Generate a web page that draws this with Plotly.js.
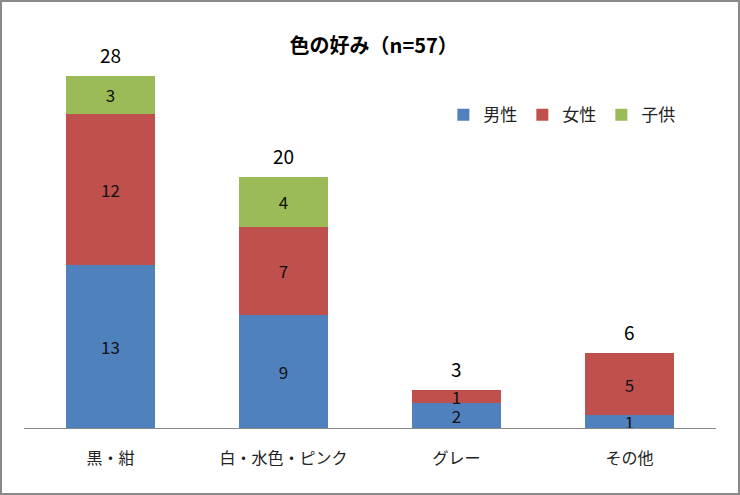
<!DOCTYPE html>
<html><head><meta charset="utf-8">
<script src="https://cdn.plot.ly/plotly-3.0.1.min.js"></script>
<style>
html,body{margin:0;padding:0;background:#fff;}
#frame{position:absolute;left:0;top:0;width:740px;height:495px;box-sizing:border-box;border:2px solid #8a8a8a;}
#chart{position:absolute;left:0;top:0;width:736px;height:491px;}
</style></head>
<body><div id="frame"><div id="chart"></div></div>
<script>
const categories = ['黒・紺', '白・水色・ピンク', 'グレー', 'その他'];
const men = [13, 9, 2, 1];
const women = [12, 7, 1, 5];
const children = [3, 4, 0, 0];
const seriesNames = ['男性', '女性', '子供'];
const totals = categories.map((c, i) => men[i] + women[i] + children[i]);

const colors = ['#4F81BD', '#C0504D', '#9BBB59'];
const numFont = 'Liberation Sans Narrow, Arial Narrow, Noto Sans CJK JP, sans-serif';
const jpFont = 'Noto Sans CJK JP, sans-serif';

function mk(vals, name, color) {
  return {
    type: 'bar', x: categories, y: vals, name: name,
    marker: {color: color},
    text: vals.map(v => v ? String(v) : ''),
    textposition: 'inside', insidetextanchor: 'middle', constraintext: 'none', textangle: 0,
    textfont: {family: numFont, size: 17, color: '#111'},
    hoverinfo: 'none'
  };
}
const data = [mk(men, seriesNames[0], colors[0]), mk(women, seriesNames[1], colors[1]), mk(children, seriesNames[2], colors[2])];

const annotations = categories.map((c, i) => ({
  x: c, y: totals[i], text: String(totals[i]), showarrow: false,
  yanchor: 'bottom', yshift: 6, font: {family: numFont, size: 19, color: '#000'}
}));

const layout = {
  width: 736, height: 491,
  margin: {l: 22, r: 22, t: 49, b: 65},
  paper_bgcolor: '#fff', plot_bgcolor: '#fff',
  barmode: 'stack', bargap: 0.49,
  title: {text: '<b>色の好み（n=57）</b>', x: 0.505, xanchor: 'center', y: 0.91, yanchor: 'middle',
          font: {family: jpFont, size: 20, color: '#000'}},
  showlegend: true,
  legend: {orientation: 'h', x: 0.606, xanchor: 'left', y: 0.83, yanchor: 'middle',
           font: {family: jpFont, size: 17, color: '#222'}, traceorder: 'normal',
           itemwidth: 30, bgcolor: 'rgba(0,0,0,0)'},
  xaxis: {type: 'category', showline: true, linecolor: '#8a8a8a', linewidth: 1,
          ticks: 'outside', ticklen: 16, tickcolor: 'rgba(0,0,0,0)',
          tickfont: {family: jpFont, size: 16, color: '#222'}, showgrid: false, zeroline: false},
  yaxis: {range: [0, 30], visible: false, showgrid: false, zeroline: false},
  annotations: annotations
};
Plotly.newPlot('chart', data, layout, {displayModeBar: false, staticPlot: true});
</script></body></html>
